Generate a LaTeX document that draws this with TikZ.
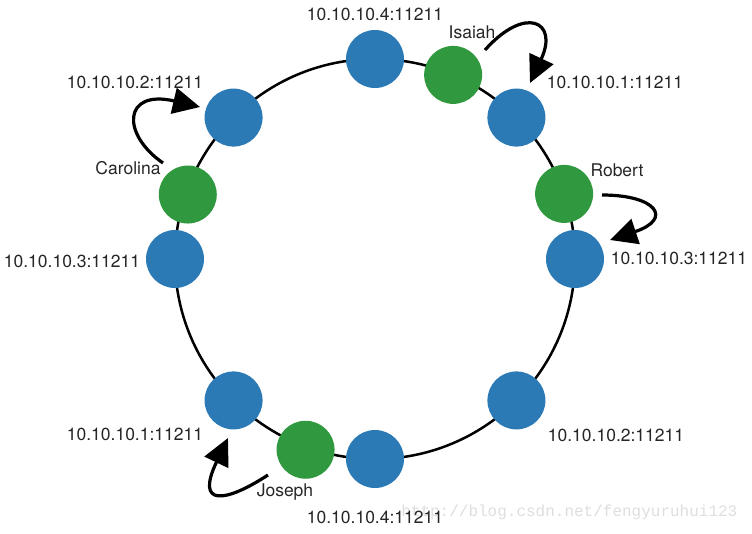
\documentclass[tikz,border=0pt]{standalone}
\usepackage{fontspec}
\setmainfont{TeX Gyre Heros}
\newfontfamily\markfont{Liberation Mono}
\usepackage{xcolor}
\usepackage{tikz}
\usetikzlibrary{arrows.meta,positioning}
\definecolor{serverblue}{RGB}{43,122,181}
\definecolor{keygreen}{RGB}{48,152,62}

\begin{document}
\begin{tikzpicture}[x=1pt,y=1pt,semithick]
    \tikzstyle{every node}=[font=\fontsize{17.5}{20}\selectfont,text=black!85]
    \tikzstyle{server}=[circle,fill=serverblue,minimum size=58pt,inner sep=0pt]
    \tikzstyle{key}=[circle,fill=keygreen,minimum size=58pt,inner sep=0pt]
    \tikzstyle{hop}=[line width=3.2pt,-{Triangle[length=27pt,width=26pt]}]

    \useasboundingbox (-375,-274) rectangle (377,259);

    \node[text=black!13,font=\markfont\fontsize{16}{18}\selectfont,anchor=east] (mark) at (366,-253) {http://blog.csdn.net/fengyuruhui123};

    \draw[line width=2.5pt] (0,0) circle (200pt);

    % servers and keys on the ring
    \node[server] (a) at (90:200pt) {};
    \node[key] (isaiah) at (67:200pt) {};
    \node[server] (b) at (45:200pt) {};
    \node[key] (robert) at (19:200pt) {};
    \node[server] (c) at (0:200pt) {};
    \node[server] (d) at (-45:200pt) {};
    \node[server] (e) at (-90:200pt) {};
    \node[key] (joseph) at (-110:203pt) {};
    \node[server] (f) at (-135:200pt) {};
    \node[server] (g) at (180:200pt) {};
    \node[key] (carolina) at (161:198pt) {};
    \node[server] (h) at (135:200pt) {};

    % labels
    \node (la) at (0,245) {10.10.10.4:11211};
    \node (lb) at (240,177) {10.10.10.1:11211};
    \node (lc) at (304,1) {10.10.10.3:11211};
    \node (ld) at (241,-176) {10.10.10.2:11211};
    \node (le) at (0,-258) {10.10.10.4:11211};
    \node (lf) at (-240,-175) {10.10.10.1:11211};
    \node (lg) at (-303,-2) {10.10.10.3:11211};
    \node (lh) at (-240,177) {10.10.10.2:11211};
    \node (lisaiah) at (97,227) {Isaiah};
    \node (lrobert) at (242,89) {Robert};
    \node (ljoseph) at (-90,-233) {Joseph};
    \node (lcarolina) at (-247,91) {Carolina};

    % where each key is stored
    \coordinate (i1) at (110,209);
    \coordinate (i2) at (155,176);
    \coordinate (r1) at (227,64);
    \coordinate (r2) at (235,19);
    \coordinate (j1) at (-107,-216);
    \coordinate (j2) at (-147,-179);
    \coordinate (c1) at (-212,96);
    \coordinate (c2) at (-175,152);

    \draw[hop] (i1) .. controls (150,254) and (184,238) .. (i2);
    \draw[hop] (r1) .. controls (282,64) and (298,40) .. (r2);
    \draw[hop] (j1) .. controls (-150,-244) and (-180,-248) .. (j2);
    \draw[hop] (c1) .. controls (-254,125) and (-252,170) .. (c2);
\end{tikzpicture}
\end{document}
